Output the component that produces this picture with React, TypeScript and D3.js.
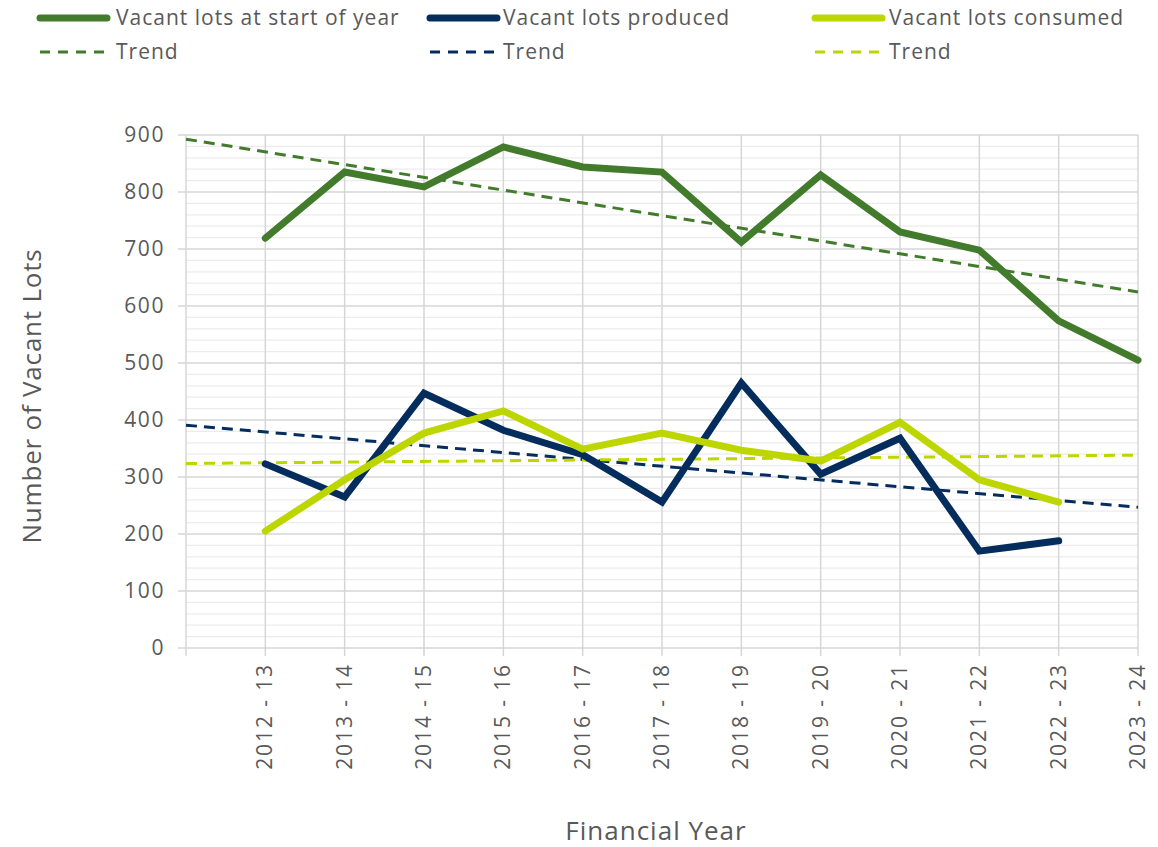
import React from "react";
import * as d3 from "d3";

const categories = ["", "2012 - 13", "2013 - 14", "2014 - 15", "2015 - 16", "2016 - 17", "2017 - 18", "2018 - 19", "2019 - 20", "2020 - 21", "2021 - 22", "2022 - 23", "2023 - 24"];
const startOfYear: (number | null)[] = [null, 719, 835, 809, 879, 844, 835, 712, 830, 730, 698, 574, 505];
const produced: (number | null)[] = [null, 323, 265, 447, 382, 339, 256, 465, 305, 368, 170, 188, null];
const consumed: (number | null)[] = [null, 205, 295, 377, 416, 349, 377, 347, 328, 396, 295, 256, null];
const yTicks = [0, 100, 200, 300, 400, 500, 600, 700, 800, 900];

const GREEN = "#437b2d";
const NAVY = "#042c5c";
const LIME = "#bdd600";
const TEXT = "#595959";
const FONT = "'Open Sans', 'Noto Sans', sans-serif";

const series = [
  { name: "Vacant lots at start of year", values: startOfYear, color: GREEN },
  { name: "Vacant lots produced", values: produced, color: NAVY },
  { name: "Vacant lots consumed", values: consumed, color: LIME },
];

function regression(values: (number | null)[]) {
  const pts = values.map((v, i) => [i, v] as [number, number | null]).filter((p) => p[1] != null) as [number, number][];
  const mx = d3.mean(pts, (p) => p[0])!;
  const my = d3.mean(pts, (p) => p[1])!;
  const sxy = d3.sum(pts, (p) => (p[0] - mx) * (p[1] - my));
  const sxx = d3.sum(pts, (p) => (p[0] - mx) * (p[0] - mx));
  const slope = sxy / sxx;
  return (x: number) => my + slope * (x - mx);
}

export default function App() {
  const W = 1158, H = 847;
  const left = 186, right = 1138, top = 135, bottom = 648;
  const x = d3.scalePoint<string>().domain(categories).range([left, right]);
  const y = d3.scaleLinear().domain([0, 900]).range([bottom, top]);
  const minorTicks = d3.range(0, 901, 20).filter((v) => v % 100 !== 0);

  const line = d3
    .line<number | null>()
    .defined((d) => d != null)
    .x((_, i) => x(categories[i])!)
    .y((d) => y(d as number));

  const legendCols = [
    { lx: 40, tx: 116 },
    { lx: 430, tx: 503 },
    { lx: 815, tx: 889 },
  ];

  return (
    <svg width={W} height={H} style={{ position: "absolute", left: 0, top: 0, background: "#fff" }} fontFamily={FONT}>
      {minorTicks.map((t) => (
        <line key={"m" + t} x1={left} x2={right} y1={y(t)} y2={y(t)} stroke="#ececec" strokeWidth={1.3} />
      ))}
      {categories.map((c, i) => (
        <line key={"v" + i} x1={x(c)!} x2={x(c)!} y1={top} y2={bottom + 8} stroke="#d6d6d6" strokeWidth={1.5} />
      ))}
      {yTicks.map((t) => (
        <line key={"g" + t} x1={left - 8} x2={right} y1={y(t)} y2={y(t)} stroke="#d6d6d6" strokeWidth={1.5} />
      ))}
      {yTicks.map((t) => (
        <text key={"yt" + t} x={165} y={y(t)} dy="0.35em" textAnchor="end" fontSize={21} letterSpacing={1.6} fill={TEXT}>
          {t}
        </text>
      ))}
      {categories.map((c, i) =>
        c ? (
          <text
            key={"xt" + i}
            transform={`translate(${x(c)! + 7},${663}) rotate(-90)`}
            textAnchor="end"
            fontSize={21}
            letterSpacing={1.9}
            fill={TEXT}
          >
            {c}
          </text>
        ) : null
      )}
      {series.map((s) => {
        const f = regression(s.values);
        const x0 = 0, x1 = categories.length - 1;
        return (
          <line
            key={"tr" + s.name}
            x1={x(categories[x0])!}
            y1={y(f(x0))}
            x2={x(categories[x1])!}
            y2={y(f(x1))}
            stroke={s.color}
            strokeWidth={3}
            strokeDasharray="11 7"
          />
        );
      })}
      {series.map((s) => (
        <path
          key={"s" + s.name}
          d={line(s.values) || ""}
          fill="none"
          stroke={s.color}
          strokeWidth={7}
          strokeLinejoin="miter"
          strokeLinecap="round"
        />
      ))}
      {series.map((s, i) => (
        <g key={"lg" + i}>
          <line x1={legendCols[i].lx} x2={legendCols[i].lx + 67} y1={18} y2={18} stroke={s.color} strokeWidth={7} strokeLinecap="round" />
          <text x={legendCols[i].tx} y={18} dy="0.35em" fontSize={21} letterSpacing={1} fill={TEXT}>
            {s.name}
          </text>
          <line x1={legendCols[i].lx} x2={legendCols[i].lx + 67} y1={52} y2={52} stroke={s.color} strokeWidth={3} strokeDasharray="10 8" />
          <text x={legendCols[i].tx} y={52} dy="0.35em" fontSize={21} letterSpacing={1} fill={TEXT}>
            Trend
          </text>
        </g>
      ))}
      <text transform={`translate(41,396) rotate(-90)`} textAnchor="middle" fontSize={26} fontWeight={500} letterSpacing={0.8} fill={TEXT}>
        Number of Vacant Lots
      </text>
      <text x={656} y={840} textAnchor="middle" fontSize={26} fontWeight={500} letterSpacing={1} fill={TEXT}>
        Financial Year
      </text>
    </svg>
  );
}
